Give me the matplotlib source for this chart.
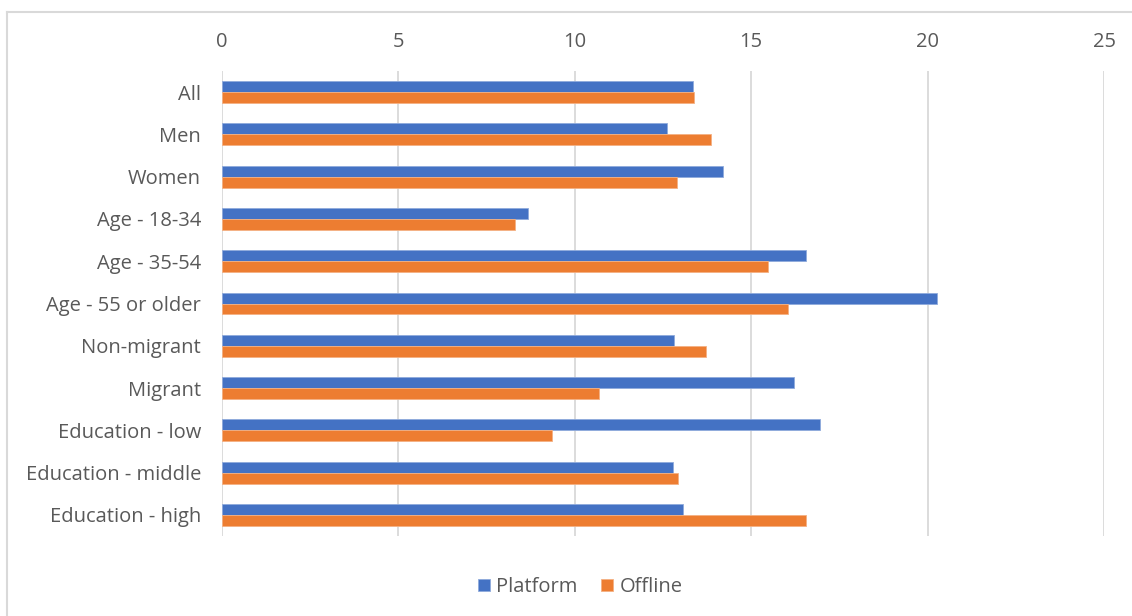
import matplotlib
matplotlib.use("Agg")
import matplotlib.pyplot as plt
import numpy as np
from matplotlib.lines import Line2D

categories = ["All", "Men", "Women", "Age - 18-34", "Age - 35-54", "Age - 55 or older",
              "Non-migrant", "Migrant", "Education - low", "Education - middle", "Education - high"]
platform = [13.34, 12.61, 14.19, 8.66, 16.55, 20.26, 12.82, 16.20, 16.94, 12.79, 13.07]
offline = [13.39, 13.87, 12.90, 8.31, 15.48, 16.03, 13.73, 10.69, 9.36, 12.93, 16.55]
xticks = [0, 5, 10, 15, 20, 25]

plt.rcParams['font.family'] = ['Open Sans', 'DejaVu Sans']
txt = '#595959'
fs = 14.5

fig = plt.figure(figsize=(11.32, 6.16), dpi=100)
ax = fig.add_axes([222/1132, 1-536/616, (1104-222)/1132, (536-71)/616])

y = np.arange(len(categories))
h = 0.26
ax.barh(y - h/2, platform, height=h, color='#4472C4', edgecolor='#8FAADC', linewidth=0.6, label='Platform', zorder=3)
ax.barh(y + h/2, offline, height=h, color='#ED7D31', edgecolor='#F4B183', linewidth=0.6, label='Offline', zorder=3)

ax.set_xlim(0, 25)
ax.set_ylim(len(categories) - 0.5, -0.5)
ax.set_xticks(xticks)
ax.set_xticklabels([str(t) for t in xticks])
ax.xaxis.tick_top()
ax.tick_params(axis='x', length=0, pad=14, labelsize=fs, labelcolor=txt)
ax.set_yticks(y)
ax.set_yticklabels(categories)
ax.tick_params(axis='y', length=0, pad=15, labelsize=fs, labelcolor=txt)
ax.grid(axis='x', color='#D9D9D9', linewidth=1.3, zorder=0)
for s in ['top', 'right', 'bottom', 'left']:
    ax.spines[s].set_visible(False)

leg = fig.legend(loc='center', bbox_to_anchor=(580/1132, 1-587/616), ncol=2, frameon=False,
                 fontsize=fs, handlelength=0.6, handleheight=0.6, handletextpad=0.3,
                 columnspacing=1.2)
for t in leg.get_texts():
    t.set_color(txt)

# chart border (top and left visible)
fig.add_artist(Line2D([7/1132, 1.0], [1-12/616, 1-12/616], color='#D9D9D9', linewidth=1.5, transform=fig.transFigure))
fig.add_artist(Line2D([7/1132, 7/1132], [0, 1-12/616], color='#D9D9D9', linewidth=1.5, transform=fig.transFigure))

fig.savefig('out.png', dpi=100)
